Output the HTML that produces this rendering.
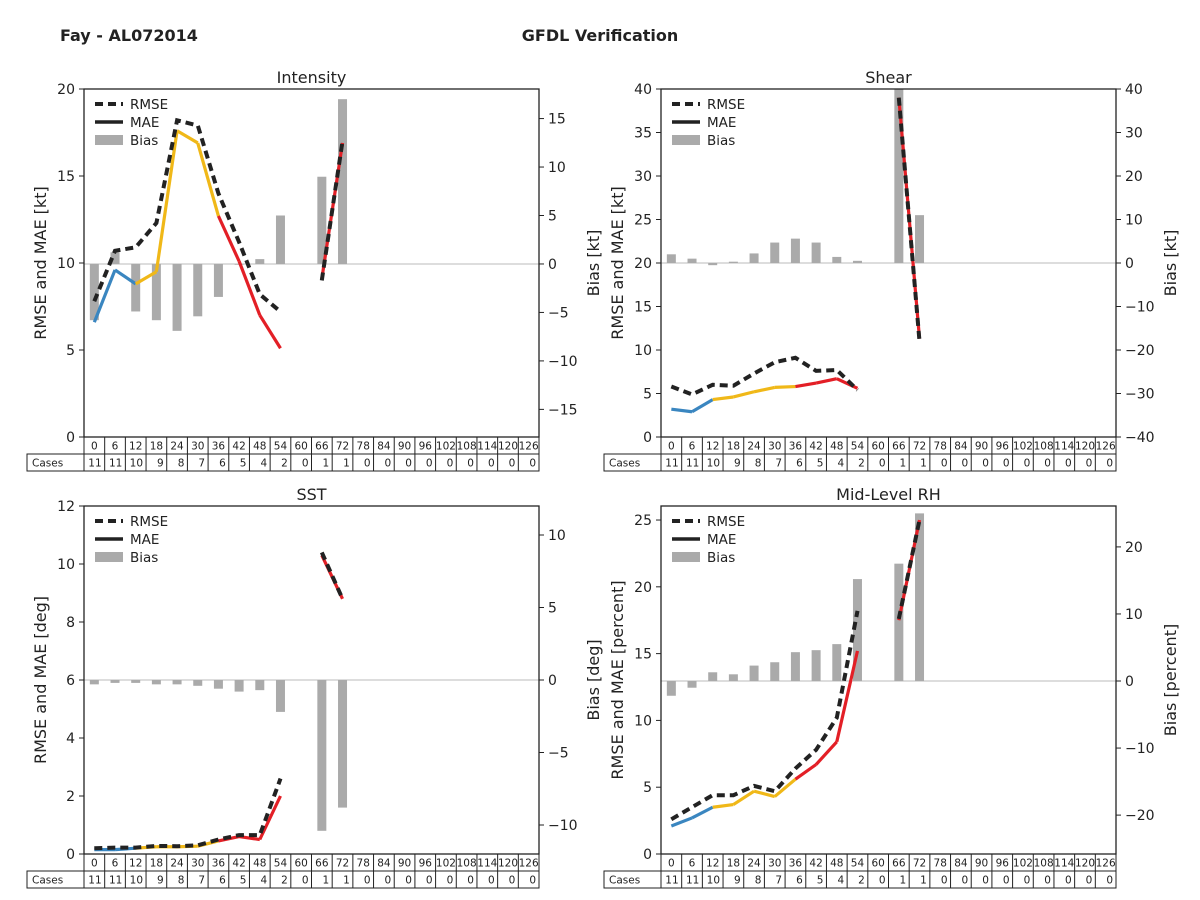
<!DOCTYPE html>
<html><head><meta charset="utf-8">
<style>
html,body{margin:0;padding:0;background:#fff;}
svg{display:block;font-family:"DejaVu Sans","Liberation Sans",sans-serif;}
</style></head>
<body>
<svg id="fig" width="1200" height="900" xmlns="http://www.w3.org/2000/svg">
<rect x="0" y="0" width="1200" height="900" fill="#fff"/>
<text x="60" y="41" font-size="16" font-weight="bold" fill="#222">Fay - AL072014</text>
<text x="600" y="41" font-size="16" font-weight="bold" fill="#222" text-anchor="middle">GFDL Verification</text>
</svg>
<script>
const leadTimes = [0,6,12,18,24,30,36,42,48,54,60,66,72,78,84,90,96,102,108,114,120,126];
const caseCounts = [11,11,10,9,8,7,6,5,4,2,0,1,1,0,0,0,0,0,0,0,0,0];

const intensityRmse = [7.8,10.7,10.9,12.3,18.2,17.9,14.0,11.2,8.2,7.2,null,9.0,17.0];
const intensityMae  = [6.6,9.6,8.8,9.5,17.6,16.9,12.7,10.1,7.0,5.1,null,9.1,16.9];
const intensityBias = [-5.8,1.2,-4.9,-5.8,-6.9,-5.4,-3.4,0.0,0.5,5.0,null,9.0,17.0];

const shearRmse = [5.8,4.9,6.0,5.9,7.3,8.6,9.1,7.6,7.7,5.4,null,39.0,11.0];
const shearMae  = [3.2,2.9,4.3,4.6,5.2,5.7,5.8,6.2,6.7,5.6,null,39.0,11.3];
const shearBias = [2.0,1.0,-0.5,0.3,2.2,4.7,5.6,4.7,1.4,0.5,null,40.0,11.0];

const sstRmse = [0.2,0.22,0.22,0.28,0.27,0.3,0.5,0.65,0.65,2.6,null,10.4,8.8];
const sstMae  = [0.15,0.15,0.2,0.25,0.25,0.27,0.45,0.6,0.5,2.0,null,10.3,8.8];
const sstBias = [-0.3,-0.2,-0.2,-0.3,-0.3,-0.4,-0.6,-0.8,-0.7,-2.2,null,-10.4,-8.8];

const rhRmse = [2.6,3.5,4.4,4.4,5.1,4.7,6.4,7.8,10.2,18.2,null,17.6,25.0];
const rhMae  = [2.1,2.7,3.5,3.7,4.7,4.3,5.6,6.7,8.4,15.2,null,17.5,25.0];
const rhBias = [-2.2,-1.0,1.3,1.0,2.3,2.8,4.3,4.6,5.5,15.2,null,17.5,25.0];

const intensityLeftTicks=[0,5,10,15,20], intensityRightTicks=[-15,-10,-5,0,5,10,15];
const shearLeftTicks=[0,5,10,15,20,25,30,35,40], shearRightTicks=[-40,-30,-20,-10,0,10,20,30,40];
const sstLeftTicks=[0,2,4,6,8,10,12], sstRightTicks=[-10,-5,0,5,10];
const rhLeftTicks=[0,5,10,15,20,25], rhRightTicks=[-20,-10,0,10,20];

const NS="http://www.w3.org/2000/svg";
const svg=document.getElementById('fig');
function mk(tag,attrs,parent){const e=document.createElementNS(NS,tag);for(const k in attrs)e.setAttribute(k,attrs[k]);(parent||svg).appendChild(e);return e;}

function segColor(i){return i<2?'#3a86c0':(i<6?'#f0b818':'#e31f26');}

function panel(cfg){
  const g=mk('g',{});
  
  
  const X0=cfg.x, X1=cfg.x+455, Y0=cfg.y, Y1=cfg.y+348;
  const cw=(X1-X0)/leadTimes.length;
  const xs=i=>X0+cw*(i+0.5);
  const yl=v=>Y1-(v-cfg.lmin)/(cfg.lmax-cfg.lmin)*(Y1-Y0);
  const yr=v=>Y1-(v-cfg.rmin)/(cfg.rmax-cfg.rmin)*(Y1-Y0);
  // zero line
  const z=mk('line',{x1:X0,x2:X1,y1:yr(0),y2:yr(0),stroke:'#bbb','stroke-width':1},g);
  
  
  // bias bars
  cfg.bias.forEach((b,i)=>{ if(b===null)return;
    const y0=yr(0),y1=yr(b);
    const r=mk('rect',{x:xs(i)-4.5,y:Math.min(y0,y1),width:9,height:Math.max(Math.abs(y1-y0),0.8),fill:'#aaaaaa'},g);
    
    
  });
  // MAE segments
  for(let i=0;i<cfg.mae.length-1;i++){
    const a=cfg.mae[i],b=cfg.mae[i+1]; if(a===null||b===null)continue;
    const l=mk('line',{x1:xs(i),y1:yl(a),x2:xs(i+1),y2:yl(b),stroke:segColor(i),'stroke-width':3.2,'stroke-linecap':'butt'},g);
    
    
  }
  // RMSE dashed
  let d='',pen=false;
  cfg.rmse.forEach((v,i)=>{ if(v===null){pen=false;return;} d+=(pen?'L':'M')+xs(i).toFixed(1)+','+yl(v).toFixed(1)+' '; pen=true;});
  const rl=mk('path',{d:d,fill:'none',stroke:'#222','stroke-width':4,'stroke-dasharray':'8,5'},g);
  
  
  // frame
  const fr=mk('rect',{x:X0,y:Y0,width:X1-X0,height:Y1-Y0,fill:'none',stroke:'#222','stroke-width':1.3},g);
  
  
  // left ticks
  cfg.lt.forEach(t=>{const y=yl(t);
    mk('line',{x1:X0-5,x2:X0,y1:y,y2:y,stroke:'#222'},g);
    const tx=mk('text',{x:X0-9,y:y+5,'font-size':14,'text-anchor':'end',fill:'#222'},g);tx.textContent=t;
    
    
  });
  cfg.rt.forEach(t=>{const y=yr(t);
    mk('line',{x1:X1,x2:X1+5,y1:y,y2:y,stroke:'#222'},g);
    const tx=mk('text',{x:X1+9,y:y+5,'font-size':14,fill:'#222'},g);tx.textContent=(t<0?'\u2212'+(-t):t);
    
    
  });
  const tt=mk('text',{x:(X0+X1)/2,y:Y0-6,'font-size':16,'text-anchor':'middle',fill:'#222'},g);tt.textContent=cfg.title;
  
  
  const ly=mk('text',{x:0,y:0,'font-size':16,'text-anchor':'middle',fill:'#222',transform:`translate(${X0-38},${(Y0+Y1)/2}) rotate(-90)`},g);ly.textContent=cfg.ylab;
  
  
  const ry=mk('text',{x:0,y:0,'font-size':16,'text-anchor':'middle',fill:'#222',transform:`translate(${X1+60},${(Y0+Y1)/2}) rotate(-90)`},g);ry.textContent=cfg.rlab;
  
  
  // legend
  const lg=mk('g',{},g);
  
  
  const lx=X0+11, ly0=Y0+15;
  mk('line',{x1:lx,x2:lx+28,y1:ly0,y2:ly0,stroke:'#222','stroke-width':4,'stroke-dasharray':'8,5'},lg);
  mk('line',{x1:lx,x2:lx+28,y1:ly0+18,y2:ly0+18,stroke:'#222','stroke-width':3.5},lg);
  mk('rect',{x:lx,y:ly0+31,width:28,height:10,fill:'#aaaaaa'},lg);
  ['RMSE','MAE','Bias'].forEach((s,k)=>{const t=mk('text',{x:lx+35,y:ly0+5+18*k,'font-size':13.5,fill:'#222'},lg);t.textContent=s;
    
    });
  // table
  const tb=mk('g',{},g);
  
  
  const r1=Y1, r2=Y1+17, r3=Y1+34;
  mk('rect',{x:X0,y:r1,width:X1-X0,height:17,fill:'none',stroke:'#222'},tb);
  mk('rect',{x:X0-57,y:r2,width:X1-X0+57,height:17,fill:'none',stroke:'#222'},tb);
  const cl=mk('text',{x:X0-52,y:r2+12.5,'font-size':10.5,fill:'#222'},tb);cl.textContent='Cases';
  
  
  mk('line',{x1:X0,x2:X0,y1:r1,y2:r3,stroke:'#222'},tb);
  leadTimes.forEach((h,i)=>{
    const x=X0+cw*i;
    if(i>0)mk('line',{x1:x,x2:x,y1:r1,y2:r3,stroke:'#222'},tb);
    const t=mk('text',{x:xs(i),y:r1+12.5,'font-size':10.5,'text-anchor':'middle',fill:'#222'},tb);t.textContent=h;
    
    
    const c=mk('text',{x:x+cw-3,y:r2+12.5,'font-size':10.5,'text-anchor':'end',fill:'#222'},tb);c.textContent=caseCounts[i];
    
    
  });
}

panel({name:'intensity',title:'Intensity',x:84,y:89,lmin:0,lmax:20,rmin:-17.85,rmax:18.05,lt:intensityLeftTicks,rt:intensityRightTicks,rmse:intensityRmse,mae:intensityMae,bias:intensityBias,ylab:'RMSE and MAE [kt]',rlab:'Bias [kt]'});
panel({name:'shear',title:'Shear',x:661,y:89,lmin:0,lmax:40,rmin:-40,rmax:40,lt:shearLeftTicks,rt:shearRightTicks,rmse:shearRmse,mae:shearMae,bias:shearBias,ylab:'RMSE and MAE [kt]',rlab:'Bias [kt]'});
panel({name:'sst',title:'SST',x:84,y:506,lmin:0,lmax:12,rmin:-12,rmax:12,lt:sstLeftTicks,rt:sstRightTicks,rmse:sstRmse,mae:sstMae,bias:sstBias,ylab:'RMSE and MAE [deg]',rlab:'Bias [deg]'});
panel({name:'mid-level-rh',title:'Mid-Level RH',x:661,y:506,lmin:0,lmax:26.05,rmin:-25.8,rmax:26.1,lt:rhLeftTicks,rt:rhRightTicks,rmse:rhRmse,mae:rhMae,bias:rhBias,ylab:'RMSE and MAE [percent]',rlab:'Bias [percent]'});
</script>
</body></html>
